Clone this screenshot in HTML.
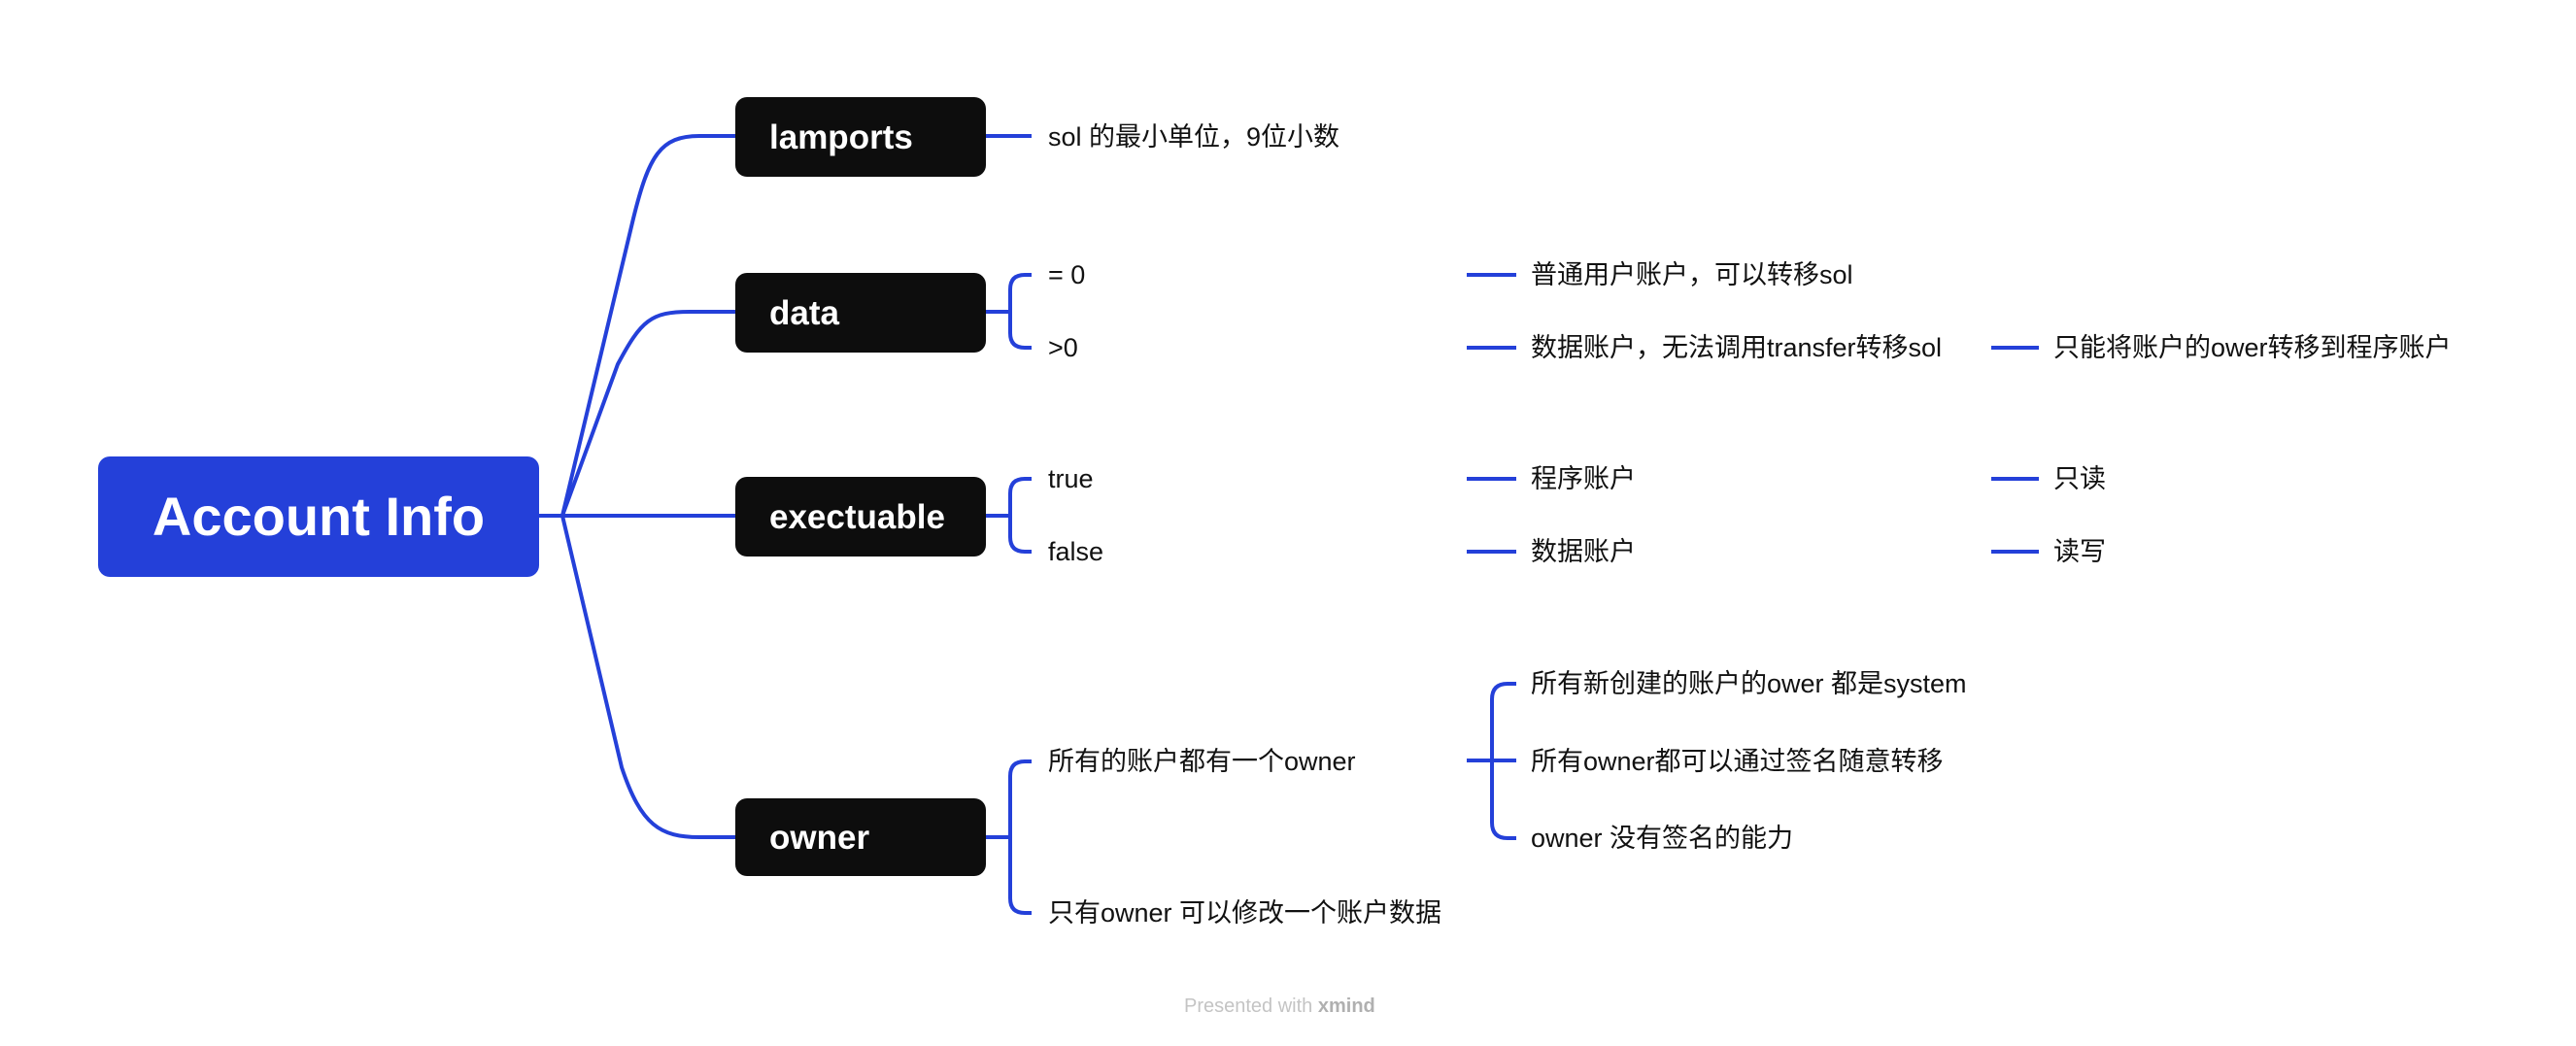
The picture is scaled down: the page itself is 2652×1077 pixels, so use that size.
<!DOCTYPE html>
<html><head><meta charset="utf-8"><style>
html,body{margin:0;padding:0;background:#fff;}
svg text{font-family:"Liberation Sans","Noto Sans CJK SC",sans-serif;}
</style></head><body>
<svg width="2652" height="1072" viewBox="0 0 2652 1072" xmlns="http://www.w3.org/2000/svg">
<g fill="none" stroke="#2440d9" stroke-width="4" stroke-linecap="butt">
  <path d="M555 531 L579 531"/>
  <path d="M579 531 L652 225 C668 160 680 140 720 140 L758 140"/>
  <path d="M579 531 L636 375 C660 330 670 321 710 321 L758 321"/>
  <path d="M579 531 L758 531"/>
  <path d="M579 531 L640 790 C660 850 680 862 720 862 L758 862"/>
  <path d="M1015 140 L1062 140"/>
  <path d="M1015 321 L1040 321"/>
  <path d="M1062 283 L1055 283 Q1040 283 1040 298 L1040 343 Q1040 358 1055 358 L1062 358"/>
  <path d="M1015 531 L1040 531"/>
  <path d="M1062 493 L1055 493 Q1040 493 1040 508 L1040 553 Q1040 568 1055 568 L1062 568"/>
  <path d="M1015 862 L1040 862"/>
  <path d="M1062 784 L1055 784 Q1040 784 1040 799 L1040 925 Q1040 940 1055 940 L1062 940"/>
  <path d="M1510 283 L1561 283"/>
  <path d="M1510 358 L1561 358"/>
  <path d="M1510 493 L1561 493"/>
  <path d="M1510 568 L1561 568"/>
  <path d="M2050 358 L2099 358"/>
  <path d="M2050 493 L2099 493"/>
  <path d="M2050 568 L2099 568"/>
  <path d="M1510 783 L1536 783"/>
  <path d="M1561 704 L1552 704 Q1536 704 1536 720 L1536 847 Q1536 863 1552 863 L1561 863"/>
  <path d="M1536 783 L1561 783"/>
</g>
<rect x="101" y="470" width="454" height="124" rx="12" fill="#2440d9"/>
<text x="328" y="551" font-size="56" font-weight="bold" fill="#fff" text-anchor="middle">Account Info</text>
<g fill="#0d0d0d">
  <rect x="757" y="100" width="258" height="82" rx="12"/>
  <rect x="757" y="281" width="258" height="82" rx="12"/>
  <rect x="757" y="491" width="258" height="82" rx="12"/>
  <rect x="757" y="822" width="258" height="80" rx="12"/>
</g>
<g fill="#fff" font-size="35" font-weight="bold">
  <text x="792" y="153">lamports</text>
  <text x="792" y="334">data</text>
  <text x="792" y="544">exectuable</text>
  <text x="792" y="874">owner</text>
</g>
<g fill="#111" font-size="27">
  <text x="1079" y="150">sol 的最小单位，9位小数</text>
  <text x="1079" y="292">= 0</text>
  <text x="1079" y="367">&gt;0</text>
  <text x="1079" y="502">true</text>
  <text x="1079" y="577">false</text>
  <text x="1079" y="793">所有的账户都有一个owner</text>
  <text x="1079" y="949">只有owner 可以修改一个账户数据</text>
  <text x="1576" y="292">普通用户账户，可以转移sol</text>
  <text x="1576" y="367">数据账户，无法调用transfer转移sol</text>
  <text x="1576" y="502">程序账户</text>
  <text x="1576" y="577">数据账户</text>
  <text x="2114" y="367">只能将账户的ower转移到程序账户</text>
  <text x="2114" y="502">只读</text>
  <text x="2114" y="577">读写</text>
  <text x="1576" y="713">所有新创建的账户的ower 都是system</text>
  <text x="1576" y="793">所有owner都可以通过签名随意转移</text>
  <text x="1576" y="872">owner 没有签名的能力</text>
</g>
<text x="1219" y="1042" font-size="20" fill="#c4c4c4">Presented with <tspan font-weight="bold" fill="#b0b0b0">xmind</tspan></text>
</svg>
</body></html>
